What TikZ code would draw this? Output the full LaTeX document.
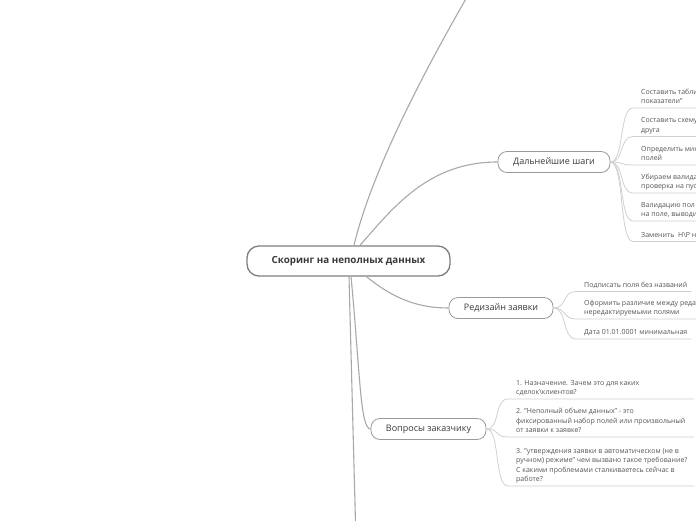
\documentclass[tikz,border=0pt]{standalone}
\usepackage{fontspec}
\setmainfont{Open Sans}
\usetikzlibrary{calc}
\definecolor{lineA}{HTML}{A8A8A8}
\definecolor{lineB}{HTML}{D0D0D0}
\definecolor{txt}{HTML}{3A3A3A}
\definecolor{leaftxt}{HTML}{555555}
\definecolor{bordA}{HTML}{7E7E7E}
\definecolor{bordB}{HTML}{9A9A9A}
\tikzset{
  rootbox/.style={draw=bordA, line width=1.3pt, rounded corners=12pt, fill=white,
    minimum width=203pt, minimum height=30pt, text=txt,
    font=\bfseries\fontsize{9.8}{11}\selectfont},
  branchbox/.style={draw=bordB, line width=0.8pt, rounded corners=9pt, fill=white,
    minimum height=21pt, text=txt, font=\fontsize{9}{11}\selectfont},
  leaf/.style={font=\fontsize{7}{9.6}\selectfont, text=leaftxt, align=left,
    inner xsep=0pt, inner ysep=1.5pt, text depth=2.5pt, anchor=south west},
  mainline/.style={draw=lineA, line width=1.1pt},
  leafline/.style={draw=lineB, line width=0.8pt},
}
\newcommand{\leafconn}[3]{%
  \draw[leafline] (#1.east) .. controls +(14,0) and +(-14,0) .. ($(#2.south west)+(-8,0)$) -- (#3);}
\begin{document}
\begin{tikzpicture}[x=1pt,y=-1pt]
\useasboundingbox (0,0) rectangle (696,520);
\clip (0,0) rectangle (696,520);
\coordinate (edgeR) at (700,0);
\coordinate (qEnd) at (694,0);
\coordinate (topEnd) at (467,-3);
\coordinate (botEnd) at (355.5,523);

% main nodes
\node[rootbox] (root) at (348.5,261) {Скоринг на неполных данных};
\node[branchbox, minimum width=112pt] (next) at (554,162) {Дальнейшие шаги};
\node[branchbox, minimum width=104pt] (redesign) at (501,308) {Редизайн заявки};
\node[branchbox, minimum width=115pt] (quest) at (428.5,429) {Вопросы заказчику};

% main connectors
\draw[mainline] ($(root.north)+(5.5,0)$) .. controls (372,170) and (425,70) .. (topEnd);
\draw[mainline] ($(root.north)+(11.5,0)$) .. controls (395,205) and (430,162) .. (next.west);
\draw[mainline] ($(root.south)+(18,0)$) .. controls (395,300) and (420,308) .. (redesign.west);
\draw[mainline] ($(root.south)+(2.5,0)$) .. controls (360,370) and (360,429) .. (quest.west);
\draw[mainline] ($(root.south)+(0.5,0)$) -- (botEnd);

% leaves of "Дальнейшие шаги"
\node[leaf] (n1) at (641,108) {Составить табли\\показатели"};
\node[leaf] (n2) at (641,136.5) {Составить схему\\друга};
\node[leaf] (n3) at (641,165) {Определить мин\\полей};
\node[leaf] (n4) at (641,193) {Убираем валида\\проверка на пус};
\node[leaf] (n5) at (641,221) {Валидацию пол\\на поле, выводи};
\node[leaf] (n6) at (641,241.5) {Заменить~ Н\textbackslash Р н};
\foreach \n in {n1,n2,n3,n4,n5,n6}{\leafconn{next}{\n}{\n.south west -| edgeR}}

% leaves of "Редизайн заявки"
\node[leaf] (r1) at (584,291.5) {Подписать поля без названий};
\node[leaf] (r2) at (584,319) {Оформить различие между реда\\нередактируемыми полями};
\node[leaf] (r3) at (584,339) {Дата 01.01.0001 минимальная};
\coordinate (r1end) at ($(r1.south east)+(4,0)$);
\coordinate (r3end) at ($(r3.south east)+(4,0)$);
\leafconn{redesign}{r1}{r1end}
\leafconn{redesign}{r2}{r2.south west -| edgeR}
\leafconn{redesign}{r3}{r3end}

% leaves of "Вопросы заказчику"
\node[leaf] (q1) at (516,399) {1. Назначение. Зачем это для каких\\сделок\textbackslash клиентов?};
\node[leaf] (q2) at (516,437) {2. "Неполный объем данных" - это\\фиксированный набор полей или произвольный\\от заявки к заявке?};
\node[leaf] (q3) at (516,486) {3. "утверждения заявки в автоматическом (не в\\ручном) режиме" чем вызвано такое требование?\\С какими проблемами сталкиваетесь сейчас в\\работе?};
\foreach \n in {q1,q2,q3}{\leafconn{quest}{\n}{\n.south west -| qEnd}}
\end{tikzpicture}
\end{document}
